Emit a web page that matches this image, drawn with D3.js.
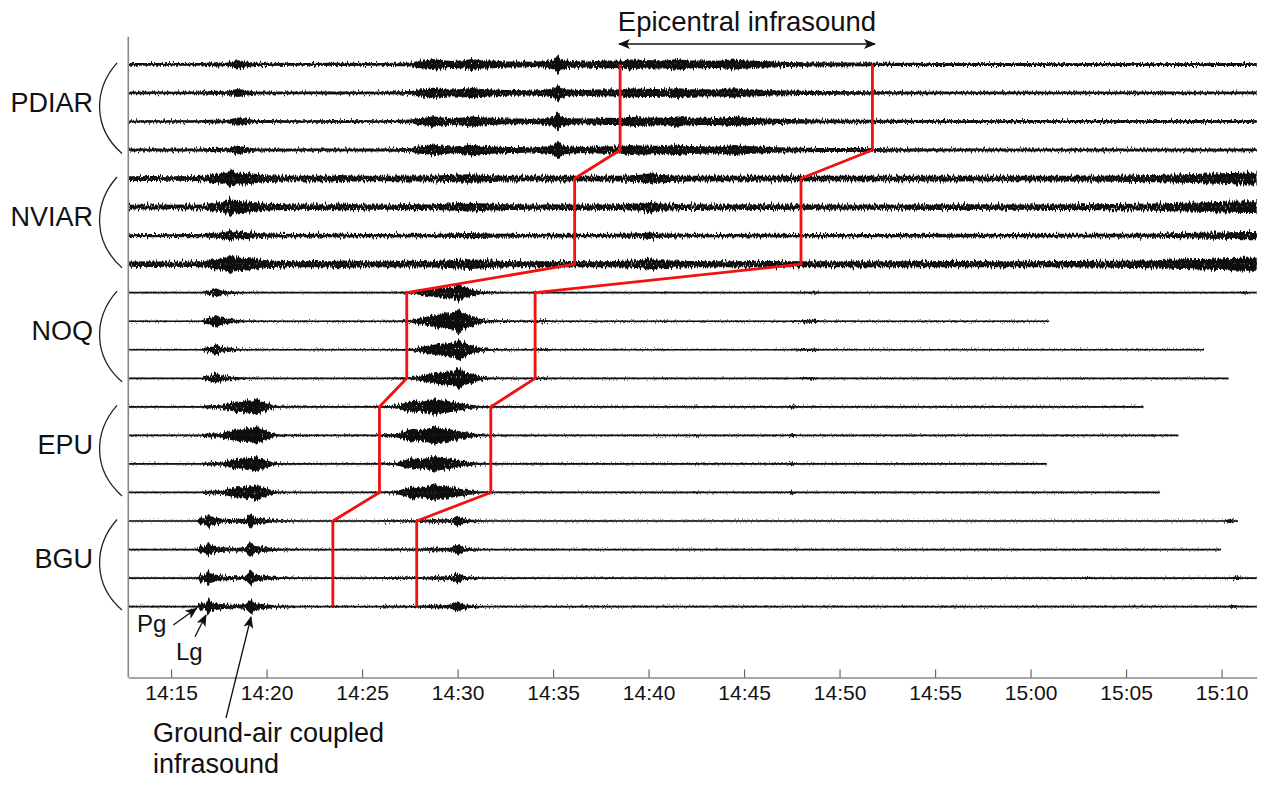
<!DOCTYPE html>
<html>
<head>
<meta charset="utf-8">
<script src="https://cdn.jsdelivr.net/npm/d3@7"></script>
<style>
  body { margin: 0; background: #fff; }
  text { font-family: 'Liberation Sans', Arial, Helvetica, sans-serif; fill: #111; }
</style>
</head>
<body>
<div id="chart"></div>
<script>
// minutes after 14:00
let stationNames = ['PDIAR', 'NVIAR', 'NOQ', 'EPU', 'BGU']
let tickMinutes = [15, 20, 25, 30, 35, 40, 45, 50, 55, 60, 65, 70]
let tickLabels = ['14:15', '14:20', '14:25', '14:30', '14:35', '14:40', '14:45', '14:50', '14:55', '15:00', '15:05', '15:10']

// envelope of each station's traces: [minute, half amplitude]
let pdiarEnv = [[12.76, 1.4], [16.5, 1.4], [17.4, 2.2], [17.9, 1.6], [18.3, 3.5], [18.5, 4.2], [18.9, 3], [19.4, 1.6], [22, 1.4], [24, 1.6], [26, 1.4], [27.6, 2], [27.9, 3.5], [28.4, 4.2], [28.7, 5.5], [29.2, 4.2], [29.7, 3.5], [30.3, 4.2], [30.75, 5.5], [31.2, 4.2], [31.8, 3.8], [32.5, 3], [33.2, 3], [33.9, 2.6], [34.6, 3.4], [35.05, 5], [35.25, 9.5], [35.45, 5], [35.9, 3.4], [36.7, 3], [37.3, 3.5], [37.8, 3.8], [38.5, 3.6], [39.0, 5], [39.6, 4.4], [40.3, 4.2], [40.9, 4], [41.5, 5.3], [42.1, 4], [42.9, 3.8], [43.6, 3.6], [44.5, 5], [45.1, 4], [45.8, 3.4], [46.6, 2.8], [47.3, 2.5], [49, 2], [51, 1.9], [52.5, 1.7], [55, 1.5], [71.84, 1.4]]
let nviarEnv = [[12.76, 2.6], [14, 2.8], [15, 2.5], [16, 2.8], [16.8, 3], [17.2, 5], [17.6, 5.5], [18.0, 8], [18.1, 10], [18.3, 7], [18.7, 6.5], [19.1, 6], [19.5, 5], [20.0, 3.8], [20.6, 3.5], [21.5, 3], [22.5, 3.2], [23.3, 3], [23.8, 4], [24.2, 3.6], [25, 3], [26.5, 3], [27.5, 3.4], [28.5, 3], [29.8, 4.2], [30.6, 4.8], [31.5, 4], [32.5, 3.2], [34, 3], [35.5, 3.2], [37, 3], [38.5, 3.2], [39.6, 4.2], [40.1, 6], [40.6, 4], [42, 3.2], [44, 3], [46, 3.2], [48, 3], [50, 3], [53, 3], [56, 3.2], [59, 3], [62, 3.2], [64.5, 3.5], [66.5, 4], [68, 4.8], [69.5, 5.5], [70.5, 6.2], [71.3, 6.5], [71.84, 6]]
let noqEnv = [[12.76, 0.8], [16.6, 0.8], [16.75, 2.5], [17.1, 3.5], [17.35, 5.5], [17.6, 3.5], [18.1, 2.5], [18.8, 1.3], [20, 0.9], [26, 0.9], [26.8, 1.2], [27.4, 1.5], [28.0, 3], [28.5, 4.5], [28.9, 5.5], [29.4, 6.5], [29.8, 7], [30.05, 10], [30.3, 7], [30.7, 5], [31.2, 2.5], [31.7, 1.6], [32.4, 1.2], [33.5, 1], [34.6, 1.6], [34.9, 0.9], [40.5, 0.9], [40.8, 1.3], [41.1, 0.8], [47.4, 0.9], [48.7, 2], [49.0, 0.9], [71.84, 0.8]]
let epuEnv = [[12.76, 0.8], [16.6, 0.8], [16.7, 2], [17.2, 2.5], [17.6, 2.2], [17.9, 3.5], [18.2, 4.5], [18.45, 5.5], [18.7, 5], [18.96, 6.5], [19.25, 6], [19.49, 8], [19.7, 5.5], [20.0, 4.5], [20.34, 2.2], [20.7, 1.5], [21.1, 1.2], [22, 1], [25.5, 0.9], [26, 1.2], [26.6, 1.8], [27.0, 3], [27.4, 5], [27.7, 6], [28.0, 5], [28.4, 6], [28.83, 8], [29.1, 6.5], [29.44, 6], [29.8, 5], [30.1, 4], [30.5, 3], [31.2, 1.6], [31.7, 1.1], [32.5, 0.9], [42.3, 0.9], [42.5, 1.4], [42.7, 0.9], [47.3, 0.9], [47.5, 2.5], [47.7, 0.9], [71.84, 0.8]]
let bguEnv = [[12.76, 0.8], [16.3, 0.9], [16.45, 2.5], [16.55, 5], [16.65, 3], [16.85, 4.5], [16.95, 8], [17.05, 5], [17.3, 4], [17.6, 3], [18.0, 2.6], [18.5, 2.3], [18.9, 2.8], [19.2, 7.5], [19.35, 4], [19.8, 3], [20.4, 2], [21, 1.5], [22, 1.1], [25.6, 1], [26.2, 1.5], [27.4, 1.4], [28.2, 1.6], [28.8, 2.5], [29.4, 2.2], [29.7, 2.8], [30.0, 5.5], [30.3, 2.8], [30.8, 1.8], [31.3, 1.2], [32, 0.9], [38, 1], [38.1, 1.3], [38.2, 0.9], [71.84, 0.8]]

let traceStation = [0, 0, 0, 0, 1, 1, 1, 1, 2, 2, 2, 2, 3, 3, 3, 3, 4, 4, 4, 4]
let traceGain = [1, 0.95, 0.95, 1, 0.9, 0.9, 0.55, 1.0, 0.85, 1.15, 1, 1, 1, 1.1, 0.95, 1, 1, 1, 1, 1]
let traceEnd = [71.84, 71.84, 71.84, 71.84, 71.84, 71.84, 71.84, 71.84, 71.84, 60.97, 69.08, 70.36, 65.91, 67.74, 60.85, 66.78, 70.86, 69.97, 71.84, 71.84]
// [trace, minute, half amplitude]
let traceBumps = [[8, 71.2, 2], [16, 70.45, 3], [18, 63.0, 1.5], [18, 70.8, 3], [19, 70.6, 2.5]]

// infrasound arrival picks per station (red lines)
let arrivalEarly = [38.51, 36.13, 27.34, 25.91, 23.47]
let arrivalLate = [51.72, 47.98, 34.06, 31.74, 27.86]

let envs = [pdiarEnv, nviarEnv, noqEnv, epuEnv, bguEnv]
// drawing style per station: clean baseline level and wiggle strength
let quietLevel = [0, 0, 0.8, 0.8, 0.8]
let wiggle = [7, 9, 8, 8, 8]

let width = 1274
let height = 787

let svg = d3
  .select('#chart')
  .append('svg')
  .attr('width', width)
  .attr('height', height)

let x = d3
  .scaleLinear()
  .domain([12.76, 71.84])
  .range([128.3, 1256.7])

let y = d3
  .scaleLinear()
  .domain([0, 19])
  .range([64.4, 606.6])

let amp = d3
  .scaleLinear()
  .domain([0, 10])
  .range([0, 10])

// each half of a trace is drawn separately so its edge can get its own jitter
let upper = d3
  .area()
  .x(d => x(d[0]))
  .y0(0.3)
  .y1(d => -amp(d[1]))

let lower = d3
  .area()
  .x(d => x(d[0]))
  .y0(-0.3)
  .y1(d => amp(d[1]))

let defs = svg.append('defs')
defs
  .append('marker')
  .attr('id', 'head')
  .attr('viewBox', '0 0 12 10')
  .attr('refX', 11)
  .attr('refY', 5)
  .attr('markerWidth', 12)
  .attr('markerHeight', 10)
  .attr('markerUnits', 'userSpaceOnUse')
  .attr('orient', 'auto-start-reverse')
  .append('path')
  .attr('d', 'M0,0 L12,5 L0,10 L3,5 Z')
  .attr('fill', '#111')

// wiggle texture, purely visual
traceStation.forEach((s, i) => {
  ;[0, 1].forEach(h => {
    let f = defs
      .append('filter')
      .attr('id', `jit-${i}-${h}`)
      .attr('filterUnits', 'userSpaceOnUse')
      .attr('x', 100)
      .attr('y', -22)
      .attr('width', 1200)
      .attr('height', 44)
    f.append('feTurbulence')
      .attr('type', 'fractalNoise')
      .attr('baseFrequency', '0.55 0.02')
      .attr('numOctaves', 2)
      .attr('seed', i * 2 + h + 1)
      .attr('result', 'noise')
    f.append('feColorMatrix')
      .attr('in', 'noise')
      .attr('type', 'matrix')
      .attr('values', '0 0 0 0 0.5  0 1 0 0 0  0 0 0 0 0  0 0 0 0 1')
      .attr('result', 'map')
    f.append('feDisplacementMap')
      .attr('in', 'SourceGraphic')
      .attr('in2', 'map')
      .attr('scale', wiggle[s])
      .attr('xChannelSelector', 'R')
      .attr('yChannelSelector', 'G')
  })
})

// traces
let traces = svg
  .selectAll('.trace')
  .data(traceStation)
  .enter()
  .append('g')
  .attr('class', 'trace')
  .attr('transform', (d, i) => `translate(0,${y(i)})`)

traces.each(function(s, i) {
  let g = d3.select(this)
  let end = traceEnd[i]
  let q = quietLevel[s]
  let boost = q > 0 ? 1.15 : 1
  let pts = envs[s].filter(d => d[0] < end)
  let last = pts[pts.length - 1]
  pts = pts
    .concat([[end, last[1]]])
    .map(d => [d[0], Math.max(Math.max(d[1] * traceGain[i], 0.6) - q, 0) * boost])
  let bumps = traceBumps.filter(b => b[0] === i)

  ;[upper, lower].forEach((gen, h) => {
    let half = g.append('g').attr('filter', `url(#jit-${i}-${h})`)
    half
      .append('path')
      .attr('d', gen(pts))
      .attr('fill', '#111')
    half
      .selectAll('.bump')
      .data(bumps)
      .enter()
      .append('path')
      .attr('class', 'bump')
      .attr('d', b => gen([[b[1] - 0.35, 0], [b[1], b[2] - q], [b[1] + 0.25, 0]]))
      .attr('fill', '#111')
  })

  g.append('line')
    .attr('x1', x.range()[0])
    .attr('x2', x(end))
    .attr('stroke', '#111')
    .attr('stroke-width', q > 0 ? 1.7 : 1.4)
})

// red infrasound arrival lines
let redLine = d3
  .line()
  .x(d => x(d[0]))
  .y(d => y(d[1]))

function arrivalPath(arr) {
  let pts = []
  arr.forEach((m, s) => {
    pts.push([m, s * 4])
    pts.push([m, s * 4 + 3])
  })
  return pts
}

svg
  .selectAll('.arrival')
  .data([arrivalEarly, arrivalLate])
  .enter()
  .append('path')
  .attr('class', 'arrival')
  .attr('d', d => redLine(arrivalPath(d)))
  .attr('fill', 'none')
  .attr('stroke', '#f41010')
  .attr('stroke-width', 2.8)
  .attr('stroke-linejoin', 'round')

// station labels and brackets
stationNames.forEach((name, s) => {
  let top = y(s * 4) - 1.5
  let bottom = y(s * 4 + 3) + 3.5
  svg
    .append('path')
    .attr('d', `M117,${top} C93,${top + (bottom - top) * 0.3} 93,${top + (bottom - top) * 0.72} 122,${bottom}`)
    .attr('fill', 'none')
    .attr('stroke', '#222')
    .attr('stroke-width', 1.3)

  svg
    .append('text')
    .text(name)
    .attr('x', 93)
    .attr('y', (y(s * 4) + y(s * 4 + 3)) / 2 + 4.5)
    .attr('text-anchor', 'end')
    .attr('font-size', 27)
})

// axes
let xAxis = d3
  .axisBottom(x)
  .tickValues(tickMinutes)
  .tickFormat((d, i) => tickLabels[i])
  .tickSizeInner(-8)
  .tickSizeOuter(0)
  .tickPadding(7.5)

let axisG = svg
  .append('g')
  .attr('transform', 'translate(0,677.5)')
  .call(xAxis)

axisG.select('.domain').attr('stroke', '#888').attr('stroke-width', 1.6)
axisG.selectAll('.tick line').attr('stroke', '#666').attr('stroke-width', 1.2)
axisG
  .selectAll('.tick text')
  .attr('font-size', 21)
  .attr('font-family', "'Liberation Sans', Arial, Helvetica, sans-serif")
  .attr('fill', '#111')

svg
  .append('line')
  .attr('x1', x.range()[0])
  .attr('x2', x.range()[0])
  .attr('y1', 36.7)
  .attr('y2', 677.5)
  .attr('stroke', '#888')
  .attr('stroke-width', 1.6)

// annotations
svg
  .append('text')
  .text('Epicentral infrasound')
  .attr('x', 747)
  .attr('y', 30.7)
  .attr('text-anchor', 'middle')
  .attr('font-size', 27.5)

svg
  .append('line')
  .attr('x1', 619)
  .attr('x2', 875)
  .attr('y1', 44)
  .attr('y2', 44)
  .attr('stroke', '#111')
  .attr('stroke-width', 1.3)
  .attr('marker-start', 'url(#head)')
  .attr('marker-end', 'url(#head)')

let pointers = [
  { label: 'Pg', tx: 137, ty: 631.7, from: [173.3, 625], to: [196.7, 608.3] },
  { label: 'Lg', tx: 176, ty: 660, from: [195, 636.7], to: [206, 615] },
  { label: '', tx: 0, ty: 0, from: [226, 718], to: [251, 617] }
]

pointers.forEach(p => {
  svg
    .append('line')
    .attr('x1', p.from[0])
    .attr('y1', p.from[1])
    .attr('x2', p.to[0])
    .attr('y2', p.to[1])
    .attr('stroke', '#111')
    .attr('stroke-width', 1.3)
    .attr('marker-end', 'url(#head)')
  if (p.label) {
    svg
      .append('text')
      .text(p.label)
      .attr('x', p.tx)
      .attr('y', p.ty)
      .attr('font-size', 24)
  }
})

svg
  .append('text')
  .text('Ground-air coupled')
  .attr('x', 153)
  .attr('y', 741.7)
  .attr('font-size', 27)

svg
  .append('text')
  .text('infrasound')
  .attr('x', 153)
  .attr('y', 773)
  .attr('font-size', 27)
</script>
</body>
</html>
